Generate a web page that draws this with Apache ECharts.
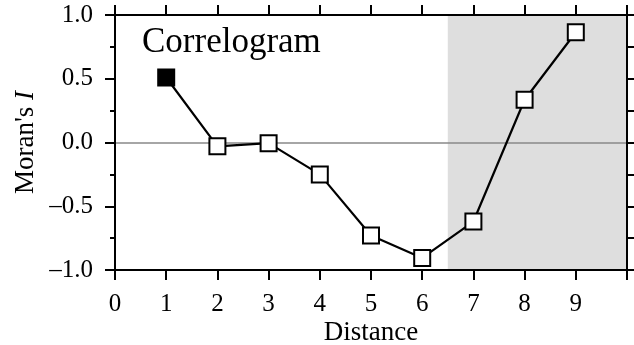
<!DOCTYPE html>
<html><head><meta charset="utf-8">
<script src="https://cdn.jsdelivr.net/npm/echarts@6/dist/echarts.min.js"></script>
<style>html,body{margin:0;padding:0;background:#fff}#c{width:634px;height:345px}</style>
</head><body><div id="c"></div>
<script>
const distances = [1, 2, 3, 4, 5, 6, 7, 8, 9];
const moranI = [0.51, -0.03, -0.005, -0.25, -0.73, -0.905, -0.62, 0.335, 0.865];
const significant = [true, false, false, false, false, false, false, false, false];
const shadeRange = [6.5, 10];
const yTicks = [-1.0, -0.5, 0.0, 0.5, 1.0];
const xTickLabels = ['0','1','2','3','4','5','6','7','8','9'];
const titleText = 'Correlogram';
const xName = 'Distance';

const F = 'Liberation Serif';
const chart = echarts.init(document.getElementById('c'));
const axisLine = {show: true, onZero: false, lineStyle: {color: '#000', width: 2}};
const data = distances.map((d, i) => ({
  value: [d, moranI[i]],
  itemStyle: significant[i] ? {color: '#000', borderColor: '#000'} : undefined
}));
chart.setOption({
  animation: false,
  title: {text: titleText, left: 137, top: 20,
    textStyle: {fontFamily: F, fontSize: 35, fontWeight: 'normal', color: '#000'}},
  grid: {left: 115, right: 7, top: 15, bottom: 75, outerBoundsMode: 'none', containLabel: false},
  xAxis: [{
    type: 'value', min: 0, max: 10, interval: 1, z: 10,
    axisLine: axisLine,
    axisTick: {show: true, length: 10, lineStyle: {color: '#000', width: 2}},
    axisLabel: {margin: 22, fontFamily: F, fontSize: 25, color: '#000',
      formatter: v => xTickLabels[v] !== undefined ? xTickLabels[v] : ''},
    splitLine: {show: false},
    name: xName, nameLocation: 'middle', nameGap: 49, nameMoveOverlap: false,
    nameTextStyle: {fontFamily: F, fontSize: 27, color: '#000'}
  }, {
    type: 'value', min: 0, max: 10, interval: 1, position: 'top', z: 10,
    axisLine: axisLine,
    axisTick: {show: true, length: 10, lineStyle: {color: '#000', width: 2}},
    axisLabel: {show: false}, splitLine: {show: false}
  }],
  yAxis: [{
    type: 'value', min: -1, max: 1, interval: 0.5, z: 10,
    axisLine: axisLine,
    axisTick: {show: true, length: 10, lineStyle: {color: '#000', width: 2}},
    minorTick: {show: true, splitNumber: 2, length: 5, lineStyle: {color: '#000', width: 2}},
    axisLabel: {margin: 22, fontFamily: F, fontSize: 25, color: '#000',
      formatter: v => {
        const t = yTicks.find(y => Math.abs(y - v) < 1e-9);
        return t === undefined ? '' : (t < 0 ? '\u2013' + Math.abs(t).toFixed(1) : t.toFixed(1));
      }},
    splitLine: {show: false},
    name: "{a|Moran's }{b|I}", nameLocation: 'middle', nameGap: 76, nameRotate: 90,
    nameMoveOverlap: false,
    nameTextStyle: {rich: {
      a: {fontFamily: F, fontSize: 27, color: '#000'},
      b: {fontFamily: F, fontSize: 27, color: '#000', fontStyle: 'italic'}
    }}
  }, {
    type: 'value', min: -1, max: 1, interval: 0.25, position: 'right', z: 10,
    axisLine: axisLine,
    axisTick: {show: true, length: 7, lineStyle: {color: '#000', width: 2}},
    axisLabel: {show: false}, splitLine: {show: false}
  }],
  series: [{
    type: 'line', data: [], z: 1, silent: true,
    markArea: {silent: true, itemStyle: {color: '#dedede'},
      data: [[{xAxis: shadeRange[0]}, {xAxis: shadeRange[1]}]]},
    markLine: {silent: true, symbol: 'none', label: {show: false},
      lineStyle: {color: '#888', width: 1.5, type: 'solid'},
      data: [{yAxis: 0}]}
  }, {
    type: 'line', data: data, z: 5,
    symbol: 'rect', symbolSize: 16, showAllSymbol: true,
    lineStyle: {color: '#000', width: 2.2},
    itemStyle: {color: '#fff', borderColor: '#000', borderWidth: 2}
  }]
});
</script></body></html>
